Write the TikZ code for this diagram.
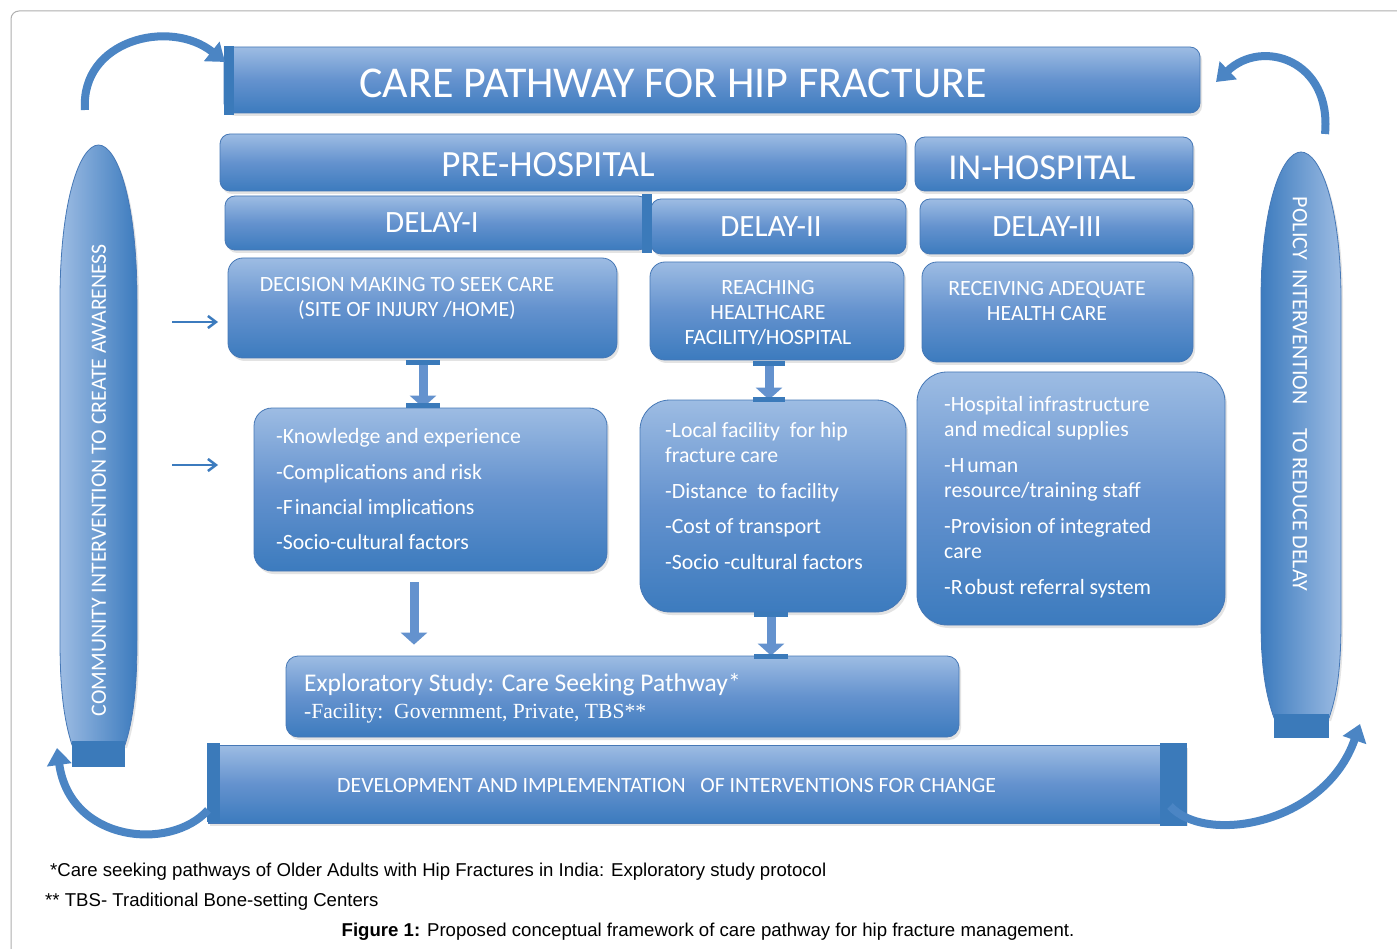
\documentclass[tikz,border=0pt]{standalone}
\usepackage{fontspec}
\setmainfont{Carlito}
\newfontfamily\capfont{Liberation Sans}
\newfontfamily\serfont{Liberation Serif}
\usetikzlibrary{shadows,arrows.meta,calc}
\definecolor{lightb}{RGB}{157,188,227}
\definecolor{midb}{RGB}{100,146,206}
\definecolor{darkb}{RGB}{60,123,190}
\definecolor{edgeb}{RGB}{70,120,182}
\definecolor{stripb}{RGB}{59,122,186}
\definecolor{framegray}{RGB}{175,175,175}
\newcommand{\fsz}[2]{\fontsize{#1}{#2}\selectfont}
\tikzset{
  box/.style={draw=edgeb, line width=0.8pt, rounded corners=#1,
    top color=lightb, bottom color=darkb, middle color=midb,
    drop shadow={shadow xshift=2pt, shadow yshift=-3pt, opacity=0.22},
    inner sep=0pt},
  box/.default=14pt,
  wtxt/.style={text=white, inner sep=0pt},
  strip/.style={fill=stripb},
  vconn/.style={draw=midb, line width=9pt, -{Triangle[width=26pt,length=12pt]}},
  barline/.style={draw=stripb, line width=5pt},
  harrow/.style={draw=darkb, line width=2.5pt, -{Straight Barb[width=12pt,length=8pt]}},
  carrow/.style={draw=darkb!85!lightb, line width=8pt, -{Triangle[width=24pt,length=17pt]}},
  pillL/.style={draw=edgeb, line width=0.8pt, left color=lightb, right color=darkb},
  pillR/.style={draw=edgeb, line width=0.8pt, left color=darkb, right color=lightb},
}
\begin{document}
\begin{tikzpicture}[x=1pt,y=-1pt]
\fill[white] (0,0) rectangle (1397,949);
\useasboundingbox (0,0) rectangle (1397,949);
\draw[framegray, line width=1pt, rounded corners=8pt] (11,11) rectangle (1420,970);

% title
\node[box=10pt, minimum width=976pt, minimum height=66pt] (title) at (712,80) {};
\fill[strip] (224,46) rectangle (234,115);
\node[wtxt, anchor=base, font=\fsz{44}{48}] (titlet) at (673,98) {CARE PATHWAY FOR HIP FRACTURE};

% headers
\node[box=10pt, minimum width=686pt, minimum height=57pt] (pre) at (563,162.5) {};
\node[wtxt, anchor=base, font=\fsz{37}{40}] (pret) at (548,176.8) {PRE-HOSPITAL};
\node[box=10pt, minimum width=278pt, minimum height=54pt] (inh) at (1054,164) {};
\node[wtxt, anchor=base, font=\fsz{36.5}{40}] (inht) at (1042,179.6) {IN-HOSPITAL};

\node[box=10pt, minimum width=423pt, minimum height=54pt] (d1) at (436.5,223) {};
\node[wtxt, anchor=base, font=\fsz{31}{34}] (d1t) at (432,233) {DELAY-I};
\node[box=10pt, minimum width=255pt, minimum height=55pt] (d2) at (778.5,226.5) {};
\fill[strip] (642,194) rectangle (652,253);
\node[wtxt, anchor=base, font=\fsz{31}{34}] (d2t) at (771,237) {DELAY-II};
\node[box=10pt, minimum width=273pt, minimum height=55pt] (d3) at (1056.5,226.5) {};
\node[wtxt, anchor=base, font=\fsz{31}{34}] (d3t) at (1047,237) {DELAY-III};

% second row
\node[box=15pt, minimum width=389pt, minimum height=100pt] (dec) at (422.5,308) {};
\node[wtxt, anchor=north, align=center, font=\fsz{21.8}{25}] (dect) at (407,277) {DECISION MAKING TO SEEK CARE\\(SITE OF INJURY /HOME)};
\node[box=15pt, minimum width=254pt, minimum height=98pt] (reach) at (777,311) {};
\node[wtxt, anchor=north, align=center, font=\fsz{21.8}{25}] (reacht) at (768,280) {REACHING\\HEALTHCARE\\FACILITY/HOSPITAL};
\node[box=15pt, minimum width=271pt, minimum height=100pt] (recv) at (1057.5,312) {};
\node[wtxt, anchor=north, align=center, font=\fsz{21.8}{25}] (recvt) at (1047,281) {RECEIVING ADEQUATE\\HEALTH CARE};

% third row
\node[box=18pt, minimum width=353pt, minimum height=163pt] (know) at (430.5,489.5) {};
\node[wtxt, anchor=north west, align=left, font=\fsz{21.8}{35.3}] (knowt) at (276,428.5) {-Knowledge and experience\\-Complications and risk\\-F\kern2pt inancial implications\\-Socio-cultural factors};
\node[box=30pt, minimum width=266pt, minimum height=212pt] (local) at (773,506) {};
\node[wtxt, anchor=north west, align=left, font=\fsz{21.8}{25}] (localt) at (665,422.5) {-Local facility\ \ for hip\\fracture care\\[10.5pt]-Distance\ \ to facility\\[10.5pt]-Cost of transport\\[10.5pt]-Socio -cultural factors};
\node[box=30pt, minimum width=308pt, minimum height=253pt] (hosp) at (1071,498.5) {};
\node[wtxt, anchor=north west, align=left, font=\fsz{21.8}{25}] (hospt) at (944,396.5) {-Hospital infrastructure\\and medical supplies\\[11pt]-H\kern3pt uman\\resource/training staff\\[11pt]-Provision of integrated\\care\\[11pt]-R\kern2pt obust referral system};

% exploratory
\node[box=12pt, minimum width=673pt, minimum height=81pt] (expl) at (622.5,696.5) {};
\node[wtxt, anchor=north west, align=left, font=\fsz{25.5}{27}] (explt) at (304,673) {Exploratory Study: Care Seeking Pathway*\\{\serfont\fsz{21.6}{22}-Facility:\ \ Government, Private, TBS**}};

% development bar
\node[box=0pt, minimum width=978pt, minimum height=78pt] (dev) at (697,784) {};
\fill[strip] (207,743) rectangle (220,822);
\fill[strip] (1160,743) rectangle (1187,826);
\node[wtxt, anchor=base west, font=\fsz{21.8}{24}] (devt) at (337,792) {DEVELOPMENT AND IMPLEMENTATION\ \ \ OF INTERVENTIONS FOR CHANGE};

% left pill
\draw[pillL, drop shadow={shadow xshift=2pt, shadow yshift=-3pt, opacity=0.2}]
  (72,745) .. controls (64,720) and (60,690) .. (60,640) -- (60,300)
  .. controls (60,200) and (80,145) .. (98.5,145)
  .. controls (117,145) and (137,200) .. (137,300) -- (137,640)
  .. controls (137,690) and (133,720) .. (125,745) -- cycle;
\fill[strip] (72,741) rectangle (125,767);
\node[wtxt, rotate=90, font=\fsz{21.8}{24}] (leftt) at (99,480) {COMMUNITY INTERVENTION TO CREATE AWARENESS};

% right pill
\draw[pillR, drop shadow={shadow xshift=2pt, shadow yshift=-3pt, opacity=0.2}]
  (1274,718) .. controls (1266,695) and (1261,670) .. (1261,620) -- (1261,300)
  .. controls (1261,205) and (1282,152) .. (1301,152)
  .. controls (1320,152) and (1341,205) .. (1341,300) -- (1341,620)
  .. controls (1341,670) and (1337,695) .. (1329,718) -- cycle;
\fill[strip] (1274,714) rectangle (1329,738);
\node[wtxt, rotate=-90, font=\fsz{22}{24}] (rightt) at (1300,394) {POLICY\hspace{9pt}INTERVENTION\hspace{24pt}TO REDUCE DELAY};

% small horizontal arrows
\coordinate (ha1) at (172,322);
\coordinate (ha1e) at (218,322);
\coordinate (ha2) at (172,465);
\coordinate (ha2e) at (218,465);
\draw[harrow] (ha1) -- (ha1e);
\draw[harrow] (ha2) -- (ha2e);

% vertical block arrows
\draw[vconn] ($(dec.south)+(0.5,2)$) coordinate (a1s) -- (a1s |- know.north);
\draw[barline] ($(a1s)+(-17,2)$) -- ($(a1s)+(17,2)$);
\draw[barline] ($(a1s |- know.north)+(-17,-2)$) -- ($(a1s |- know.north)+(17,-2)$);

\draw[vconn] ($(reach.south)+(-8,2)$) coordinate (a2s) -- (a2s |- local.north);
\draw[barline] ($(a2s)+(-16,1)$) -- ($(a2s)+(16,1)$);
\draw[barline] ($(a2s |- local.north)+(-16,0)$) -- ($(a2s |- local.north)+(16,0)$);

\draw[vconn, shorten >=11pt] ($(know.south)+(-16.5,11)$) coordinate (a3s) -- (a3s |- expl.north);

\draw[vconn] ($(local.south)+(-2,1)$) coordinate (a4s) -- (a4s |- expl.north);
\draw[barline] ($(a4s)+(-17,1)$) -- ($(a4s)+(17,1)$);
\draw[barline] ($(a4s |- expl.north)+(-17,1)$) -- ($(a4s |- expl.north)+(17,1)$);

% curved arrows
\coordinate (tl1) at (85,110);
\coordinate (tl2) at (225,62);
\draw[carrow] (tl1) .. controls (80,40) and (170,18) .. (tl2);
\coordinate (tr1) at (1325,134);
\coordinate (tr2) at (1216,82);
\draw[carrow] (tr1) .. controls (1332,60) and (1262,38) .. (tr2);
\coordinate (bl1) at (208,810);
\coordinate (bl2) at (57,748);
\draw[carrow] (bl1) .. controls (170,852) and (70,842) .. (bl2);
\coordinate (br1) at (1170,806);
\coordinate (br2) at (1360,724);
\draw[carrow] (br1) .. controls (1205,845) and (1325,825) .. (br2);

% captions
\node[anchor=base west, inner sep=0pt, font=\capfont\fsz{18.6}{20}] (cap1) at (50,876) {*Care seeking pathways of Older Adults with Hip Fractures in India: Exploratory study protocol};
\node[anchor=base west, inner sep=0pt, font=\capfont\fsz{18.6}{20}] (cap2) at (45,906) {** TBS- Traditional Bone-setting Centers};
\node[anchor=base, inner sep=0pt, font=\capfont\fsz{18.6}{20}] (cap3) at (708,936) {\textbf{Figure 1:} Proposed conceptual framework of care pathway for hip fracture management.};
\end{tikzpicture}
\end{document}
